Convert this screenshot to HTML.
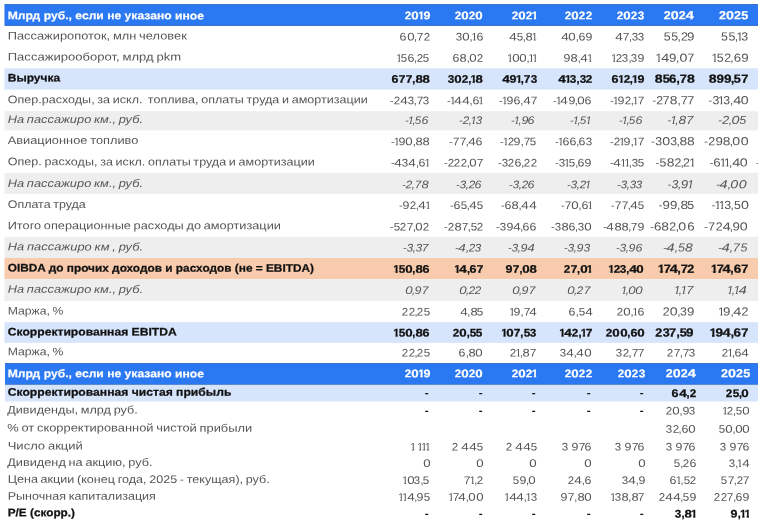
<!DOCTYPE html>
<html lang="ru"><head><meta charset="utf-8"><title>Таблица</title><style>
html,body{margin:0;padding:0;background:#fff}
body{width:758px;height:520px;position:relative;overflow:hidden;font-family:"Liberation Sans", sans-serif;font-size:11px;color:#565656}
.bd{position:absolute;left:4px;right:0}
.ov{position:absolute;left:4px;width:1px;top:0;height:363px;background:#fff;opacity:.45}
.hd{background:#2a78f2;box-shadow:inset 0 1px 0 #3c74cc,inset 0 -1px 0 #3c74cc}
.lb{background:#d6e4fc}
.gr{background:#efeeee}
.or{background:#f8cbad}
.t{position:absolute;top:0;white-space:pre;line-height:20px;height:20px;display:block}
.l{left:0;transform-origin:0 0;word-spacing:-0.7px}
.r{transform-origin:100% 14.0px}
.r span{display:inline-block}
.h{color:#fff;font-weight:bold;-webkit-text-stroke:0.2px #fff}
.l.b,.l.h{word-spacing:0}
.b{color:#111;font-weight:bold;-webkit-text-stroke:0.25px #111}
.i{font-style:italic}
.ds{-webkit-text-stroke:0}
.d0{margin:0 0.0570em;transform:scaleX(1.2050)}
.d1{margin:0 -0.1042em 0 -0.0955em}
.d2{margin:0 0.0142em;transform:scaleX(1.0511)}
.d3{margin:0 0.0132em;transform:scaleX(1.0475)}
.d4{margin:0 0.0641em;transform:scaleX(1.2306)}
.d5{margin:0 0.0152em;transform:scaleX(1.0548)}
.d6{margin:0 0.0361em;transform:scaleX(1.1299)}
.d7{margin:0 0.0254em;transform:scaleX(1.0914)}
.d8{margin:0 0.0483em;transform:scaleX(1.1738)}
.d9{margin:0 0.0361em;transform:scaleX(1.1299)}
.c{margin:0 -0.0260em}
.m{margin:0 0.0040em;transform:scaleX(1.0243)}
.b .d0{margin:0 0.0590em;transform:scaleX(1.2123)}
.b .d1{margin:0 -0.0932em 0 -0.0636em}
.b .d2{margin:0 0.0173em;transform:scaleX(1.0621)}
.b .d3{margin:0 0.0173em;transform:scaleX(1.0621)}
.b .d4{margin:0 0.0672em;transform:scaleX(1.2416)}
.b .d5{margin:0 0.0198em;transform:scaleX(1.0713)}
.b .d6{margin:0 0.0387em;transform:scaleX(1.1390)}
.b .d7{margin:0 0.0244em;transform:scaleX(1.0878)}
.b .d8{margin:0 0.0544em;transform:scaleX(1.1958)}
.b .d9{margin:0 0.0387em;transform:scaleX(1.1390)}
.b .c{margin:0 -0.0117em}
.b .m{margin:0 0.0117em;transform:scaleX(1.0702)}
.h .d0{margin:0 0.0590em;transform:scaleX(1.2123)}
.h .d1{margin:0 -0.0932em 0 -0.0636em}
.h .d2{margin:0 0.0173em;transform:scaleX(1.0621)}
.h .d3{margin:0 0.0173em;transform:scaleX(1.0621)}
.h .d4{margin:0 0.0672em;transform:scaleX(1.2416)}
.h .d5{margin:0 0.0198em;transform:scaleX(1.0713)}
.h .d6{margin:0 0.0387em;transform:scaleX(1.1390)}
.h .d7{margin:0 0.0244em;transform:scaleX(1.0878)}
.h .d8{margin:0 0.0544em;transform:scaleX(1.1958)}
.h .d9{margin:0 0.0387em;transform:scaleX(1.1390)}
.h .c{margin:0 -0.0117em}
.h .m{margin:0 0.0117em;transform:scaleX(1.0702)}
.r .d7.k{margin-right:-0.07em}
.d1{clip-path:polygon(0 0,100% 0,100% 12.85px,4.1px 12.85px,4.1px 15px,2.2px 15px,2.2px 12.85px,0 12.85px)}
.b .d1,.h .d1{clip-path:polygon(0 0,100% 0,100% 12.5px,4.45px 12.5px,4.45px 15px,2.1px 15px,2.1px 12.5px,0 12.5px)}
.i .d1{clip-path:polygon(0 0,100% 0,100% 12.85px,3.8px 12.85px,3.8px 15px,2.1px 15px,2.1px 12.85px,0 12.85px)}
</style></head><body>
<div class="bd hd" style="top:4px;height:22px"></div>
<span class="t l h" style="transform:matrix(1.1029,0.0005,0,1,7.70,5.30)">Млрд руб., если не указано иное</span>
<span class="t r h" style="right:328.1px;transform:matrix(1.0,0.0005,0,1.0,0,5.30)"><span class=d2>2</span><span class=d0>0</span><span class=d1>1</span><span class=d9>9</span></span>
<span class="t r h" style="right:274.8px;transform:matrix(1.0,0.0005,0,1.0,0,5.30)"><span class=d2>2</span><span class=d0>0</span><span class=d2>2</span><span class=d0>0</span></span>
<span class="t r h" style="right:221.3px;transform:matrix(1.0,0.0005,0,1.0,0,5.30)"><span class=d2>2</span><span class=d0>0</span><span class=d2>2</span><span class=d1>1</span></span>
<span class="t r h" style="right:166.1px;transform:matrix(1.0,0.0005,0,1.0,0,5.30)"><span class=d2>2</span><span class=d0>0</span><span class=d2>2</span><span class=d2>2</span></span>
<span class="t r h" style="right:113.7px;transform:matrix(1.0,0.0005,0,1.0,0,5.30)"><span class=d2>2</span><span class=d0>0</span><span class=d2>2</span><span class=d3>3</span></span>
<span class="t r h" style="right:63.7px;transform:matrix(1.07,0.0005,0,1.07,0,5.30)"><span class=d2>2</span><span class=d0>0</span><span class=d2>2</span><span class=d4>4</span></span>
<span class="t r h" style="right:9.6px;transform:matrix(1.07,0.0005,0,1.07,0,5.30)"><span class=d2>2</span><span class=d0>0</span><span class=d2>2</span><span class=d5>5</span></span>
<span class="t l n" style="transform:matrix(1.1692,0.0005,0,1,7.70,25.45)">Пассажиропоток, млн человек</span>
<span class="t r n" style="right:328.1px;transform:matrix(1.0,0.0005,0,1.0,0,26.60)"><span class=d6>6</span><span class=d0>0</span><span class=c>,</span><span class=d7>7</span><span class=d2>2</span></span>
<span class="t r n" style="right:274.8px;transform:matrix(1.0,0.0005,0,1.0,0,26.60)"><span class=d3>3</span><span class=d0>0</span><span class=c>,</span><span class=d1>1</span><span class=d6>6</span></span>
<span class="t r n" style="right:221.3px;transform:matrix(1.0,0.0005,0,1.0,0,26.60)"><span class=d4>4</span><span class=d5>5</span><span class=c>,</span><span class=d8>8</span><span class=d1>1</span></span>
<span class="t r n" style="right:166.1px;transform:matrix(1.0,0.0005,0,1.0,0,26.60)"><span class=d4>4</span><span class=d0>0</span><span class=c>,</span><span class=d6>6</span><span class=d9>9</span></span>
<span class="t r n" style="right:113.7px;transform:matrix(1.0,0.0005,0,1.0,0,26.60)"><span class=d4>4</span><span class=d7>7</span><span class=c>,</span><span class=d3>3</span><span class=d3>3</span></span>
<span class="t r n" style="right:63.7px;transform:matrix(1.07,0.0005,0,1.07,0,26.60)"><span class=d5>5</span><span class=d5>5</span><span class=c>,</span><span class=d2>2</span><span class=d9>9</span></span>
<span class="t r n" style="right:9.6px;transform:matrix(1.07,0.0005,0,1.07,0,26.60)"><span class=d5>5</span><span class=d5>5</span><span class=c>,</span><span class=d1>1</span><span class=d3>3</span></span>
<span class="t l n" style="transform:matrix(1.1873,0.0005,0,1,7.70,46.55)">Пассажирооборот, млрд pkm</span>
<span class="t r n" style="right:328.1px;transform:matrix(1.0,0.0005,0,1.0,0,47.70)"><span class=d1>1</span><span class=d5>5</span><span class=d6>6</span><span class=c>,</span><span class=d2>2</span><span class=d5>5</span></span>
<span class="t r n" style="right:274.8px;transform:matrix(1.0,0.0005,0,1.0,0,47.70)"><span class=d6>6</span><span class=d8>8</span><span class=c>,</span><span class=d0>0</span><span class=d2>2</span></span>
<span class="t r n" style="right:221.3px;transform:matrix(1.0,0.0005,0,1.0,0,47.70)"><span class=d1>1</span><span class=d0>0</span><span class=d0>0</span><span class=c>,</span><span class=d1>1</span><span class=d1>1</span></span>
<span class="t r n" style="right:166.1px;transform:matrix(1.0,0.0005,0,1.0,0,47.70)"><span class=d9>9</span><span class=d8>8</span><span class=c>,</span><span class=d4>4</span><span class=d1>1</span></span>
<span class="t r n" style="right:113.7px;transform:matrix(1.0,0.0005,0,1.0,0,47.70)"><span class=d1>1</span><span class=d2>2</span><span class=d3>3</span><span class=c>,</span><span class=d3>3</span><span class=d9>9</span></span>
<span class="t r n" style="right:63.7px;transform:matrix(1.07,0.0005,0,1.07,0,47.70)"><span class=d1>1</span><span class=d4>4</span><span class=d9>9</span><span class=c>,</span><span class=d0>0</span><span class=d7>7</span></span>
<span class="t r n" style="right:9.6px;transform:matrix(1.07,0.0005,0,1.07,0,47.70)"><span class=d1>1</span><span class=d5>5</span><span class=d2>2</span><span class=c>,</span><span class=d6>6</span><span class=d9>9</span></span>
<div class="bd lb" style="top:69px;height:20px"></div>
<div class="bd lb" style="top:68px;height:1px;opacity:0.70"></div>
<div class="bd lb" style="top:89px;height:1px;opacity:0.60"></div>
<span class="t l b" style="transform:matrix(1.0927,0.0005,0,1,7.70,67.55)">Выручка</span>
<span class="t r b" style="right:328.1px;transform:matrix(1.0,0.0005,0,1.0,0,68.70)"><span class=d6>6</span><span class=d7>7</span><span class=d7>7</span><span class=c>,</span><span class=d8>8</span><span class=d8>8</span></span>
<span class="t r b" style="right:274.8px;transform:matrix(1.0,0.0005,0,1.0,0,68.70)"><span class=d3>3</span><span class=d0>0</span><span class=d2>2</span><span class=c>,</span><span class=d1>1</span><span class=d8>8</span></span>
<span class="t r b" style="right:221.3px;transform:matrix(1.0,0.0005,0,1.0,0,68.70)"><span class=d4>4</span><span class=d9>9</span><span class=d1>1</span><span class=c>,</span><span class=d7>7</span><span class=d3>3</span></span>
<span class="t r b" style="right:166.1px;transform:matrix(1.0,0.0005,0,1.0,0,68.70)"><span class=d4>4</span><span class=d1>1</span><span class=d3>3</span><span class=c>,</span><span class=d3>3</span><span class=d2>2</span></span>
<span class="t r b" style="right:113.7px;transform:matrix(1.0,0.0005,0,1.0,0,68.70)"><span class=d6>6</span><span class=d1>1</span><span class=d2>2</span><span class=c>,</span><span class=d1>1</span><span class=d9>9</span></span>
<span class="t r b" style="right:63.7px;transform:matrix(1.07,0.0005,0,1.07,0,68.70)"><span class=d8>8</span><span class=d5>5</span><span class=d6>6</span><span class=c>,</span><span class=d7>7</span><span class=d8>8</span></span>
<span class="t r b" style="right:9.6px;transform:matrix(1.07,0.0005,0,1.07,0,68.70)"><span class=d8>8</span><span class=d9>9</span><span class=d9>9</span><span class=c>,</span><span class=d5>5</span><span class=d7>7</span></span>
<span class="t l n" style="transform:matrix(1.1412,0.0005,0,1,7.70,89.15)">Опер.расходы, за искл.  топлива, оплаты труда и амортизации</span>
<span class="t r n" style="right:328.1px;transform:matrix(1.0,0.0005,0,1.0,0,90.30)"><span class=m>-</span><span class=d2>2</span><span class=d4>4</span><span class=d3>3</span><span class=c>,</span><span class=d7>7</span><span class=d3>3</span></span>
<span class="t r n" style="right:274.8px;transform:matrix(1.0,0.0005,0,1.0,0,90.30)"><span class=m>-</span><span class=d1>1</span><span class=d4>4</span><span class=d4>4</span><span class=c>,</span><span class=d6>6</span><span class=d1>1</span></span>
<span class="t r n" style="right:221.3px;transform:matrix(1.0,0.0005,0,1.0,0,90.30)"><span class=m>-</span><span class=d1>1</span><span class=d9>9</span><span class=d6>6</span><span class=c>,</span><span class=d4>4</span><span class=d7>7</span></span>
<span class="t r n" style="right:166.1px;transform:matrix(1.0,0.0005,0,1.0,0,90.30)"><span class=m>-</span><span class=d1>1</span><span class=d4>4</span><span class=d9>9</span><span class=c>,</span><span class=d0>0</span><span class=d6>6</span></span>
<span class="t r n" style="right:113.7px;transform:matrix(1.0,0.0005,0,1.0,0,90.30)"><span class=m>-</span><span class=d1>1</span><span class=d9>9</span><span class=d2>2</span><span class=c>,</span><span class=d1>1</span><span class=d7>7</span></span>
<span class="t r n" style="right:63.7px;transform:matrix(1.07,0.0005,0,1.07,0,90.30)"><span class=m>-</span><span class=d2>2</span><span class=d7>7</span><span class=d8>8</span><span class=c>,</span><span class=d7>7</span><span class=d7>7</span></span>
<span class="t r n" style="right:9.6px;transform:matrix(1.07,0.0005,0,1.07,0,90.30)"><span class=m>-</span><span class=d3>3</span><span class=d1>1</span><span class=d3>3</span><span class=c>,</span><span class=d4>4</span><span class=d0>0</span></span>
<div class="bd gr" style="top:112px;height:18px"></div>
<div class="bd gr" style="top:111px;height:1px;opacity:0.80"></div>
<div class="bd gr" style="top:130px;height:1px;opacity:0.40"></div>
<span class="t l i" style="transform:matrix(1.1670,0.0005,0,1,7.70,108.95)">На пассажиро км., руб.</span>
<span class="t r i" style="right:329.6px;transform:matrix(1.0,0.0005,0,1.0,0,110.10)"><span class=m>-</span><span class=d1>1</span><span class=c>,</span><span class=d5>5</span><span class=d6>6</span></span>
<span class="t r i" style="right:276.3px;transform:matrix(1.0,0.0005,0,1.0,0,110.10)"><span class=m>-</span><span class=d2>2</span><span class=c>,</span><span class=d1>1</span><span class=d3>3</span></span>
<span class="t r i" style="right:222.8px;transform:matrix(1.0,0.0005,0,1.0,0,110.10)"><span class=m>-</span><span class=d1>1</span><span class=c>,</span><span class=d9>9</span><span class=d6>6</span></span>
<span class="t r i" style="right:167.6px;transform:matrix(1.0,0.0005,0,1.0,0,110.10)"><span class=m>-</span><span class=d1>1</span><span class=c>,</span><span class=d5>5</span><span class=d1>1</span></span>
<span class="t r i" style="right:115.2px;transform:matrix(1.0,0.0005,0,1.0,0,110.10)"><span class=m>-</span><span class=d1>1</span><span class=c>,</span><span class=d5>5</span><span class=d6>6</span></span>
<span class="t r i" style="right:65.2px;transform:matrix(1.07,0.0005,0,1.07,0,110.10)"><span class=m>-</span><span class=d1>1</span><span class=c>,</span><span class=d8>8</span><span class=d7>7</span></span>
<span class="t r i" style="right:11.1px;transform:matrix(1.07,0.0005,0,1.07,0,110.10)"><span class=m>-</span><span class=d2>2</span><span class=c>,</span><span class=d0>0</span><span class=d5>5</span></span>
<span class="t l n" style="transform:matrix(1.1655,0.0005,0,1,7.70,130.05)">Авиационное топливо</span>
<span class="t r n" style="right:328.1px;transform:matrix(1.0,0.0005,0,1.0,0,131.20)"><span class=m>-</span><span class=d1>1</span><span class=d9>9</span><span class=d0>0</span><span class=c>,</span><span class=d8>8</span><span class=d8>8</span></span>
<span class="t r n" style="right:274.8px;transform:matrix(1.0,0.0005,0,1.0,0,131.20)"><span class=m>-</span><span class=d7>7</span><span class=d7>7</span><span class=c>,</span><span class=d4>4</span><span class=d6>6</span></span>
<span class="t r n" style="right:221.3px;transform:matrix(1.0,0.0005,0,1.0,0,131.20)"><span class=m>-</span><span class=d1>1</span><span class=d2>2</span><span class=d9>9</span><span class=c>,</span><span class=d7>7</span><span class=d5>5</span></span>
<span class="t r n" style="right:166.1px;transform:matrix(1.0,0.0005,0,1.0,0,131.20)"><span class=m>-</span><span class=d1>1</span><span class=d6>6</span><span class=d6>6</span><span class=c>,</span><span class=d6>6</span><span class=d3>3</span></span>
<span class="t r n" style="right:113.7px;transform:matrix(1.0,0.0005,0,1.0,0,131.20)"><span class=m>-</span><span class=d2>2</span><span class=d1>1</span><span class=d9>9</span><span class=c>,</span><span class=d1>1</span><span class=d7>7</span></span>
<span class="t r n" style="right:63.7px;transform:matrix(1.07,0.0005,0,1.07,0,131.20)"><span class=m>-</span><span class=d3>3</span><span class=d0>0</span><span class=d3>3</span><span class=c>,</span><span class=d8>8</span><span class=d8>8</span></span>
<span class="t r n" style="right:9.6px;transform:matrix(1.07,0.0005,0,1.07,0,131.20)"><span class=m>-</span><span class=d2>2</span><span class=d9>9</span><span class=d8>8</span><span class=c>,</span><span class=d0>0</span><span class=d0>0</span></span>
<span class="t l n" style="transform:matrix(1.1427,0.0005,0,1,7.70,151.35)">Опер. расходы, за искл. оплаты труда и амортизации</span>
<span class="t r n" style="right:328.1px;transform:matrix(1.0,0.0005,0,1.0,0,152.50)"><span class=m>-</span><span class=d4>4</span><span class=d3>3</span><span class=d4>4</span><span class=c>,</span><span class=d6>6</span><span class=d1>1</span></span>
<span class="t r n" style="right:274.8px;transform:matrix(1.0,0.0005,0,1.0,0,152.50)"><span class=m>-</span><span class=d2>2</span><span class=d2>2</span><span class=d2>2</span><span class=c>,</span><span class=d0>0</span><span class=d7>7</span></span>
<span class="t r n" style="right:221.3px;transform:matrix(1.0,0.0005,0,1.0,0,152.50)"><span class=m>-</span><span class=d3>3</span><span class=d2>2</span><span class=d6>6</span><span class=c>,</span><span class=d2>2</span><span class=d2>2</span></span>
<span class="t r n" style="right:166.1px;transform:matrix(1.0,0.0005,0,1.0,0,152.50)"><span class=m>-</span><span class=d3>3</span><span class=d1>1</span><span class=d5>5</span><span class=c>,</span><span class=d6>6</span><span class=d9>9</span></span>
<span class="t r n" style="right:113.7px;transform:matrix(1.0,0.0005,0,1.0,0,152.50)"><span class=m>-</span><span class=d4>4</span><span class=d1>1</span><span class=d1>1</span><span class=c>,</span><span class=d3>3</span><span class=d5>5</span></span>
<span class="t r n" style="right:63.7px;transform:matrix(1.07,0.0005,0,1.07,0,152.50)"><span class=m>-</span><span class=d5>5</span><span class=d8>8</span><span class=d2>2</span><span class=c>,</span><span class=d2>2</span><span class=d1>1</span></span>
<span class="t r n" style="right:9.6px;transform:matrix(1.07,0.0005,0,1.07,0,152.50)"><span class=m>-</span><span class=d6>6</span><span class=d1>1</span><span class=d1>1</span><span class=c>,</span><span class=d4>4</span><span class=d0>0</span></span>
<span class="t l n" style="transform:matrix(1.2,0.0005,0,1,755.9,152.50)">-</span>
<div class="bd gr" style="top:173px;height:20px"></div>
<div class="bd gr" style="top:172px;height:1px;opacity:0.10"></div>
<div class="bd gr" style="top:193px;height:1px;opacity:0.90"></div>
<span class="t l i" style="transform:matrix(1.1670,0.0005,0,1,7.70,173.05)">На пассажиро км., руб.</span>
<span class="t r i" style="right:329.6px;transform:matrix(1.0,0.0005,0,1.0,0,174.20)"><span class=m>-</span><span class=d2>2</span><span class=c>,</span><span class=d7>7</span><span class=d8>8</span></span>
<span class="t r i" style="right:276.3px;transform:matrix(1.0,0.0005,0,1.0,0,174.20)"><span class=m>-</span><span class=d3>3</span><span class=c>,</span><span class=d2>2</span><span class=d6>6</span></span>
<span class="t r i" style="right:222.8px;transform:matrix(1.0,0.0005,0,1.0,0,174.20)"><span class=m>-</span><span class=d3>3</span><span class=c>,</span><span class=d2>2</span><span class=d6>6</span></span>
<span class="t r i" style="right:167.6px;transform:matrix(1.0,0.0005,0,1.0,0,174.20)"><span class=m>-</span><span class=d3>3</span><span class=c>,</span><span class=d2>2</span><span class=d1>1</span></span>
<span class="t r i" style="right:115.2px;transform:matrix(1.0,0.0005,0,1.0,0,174.20)"><span class=m>-</span><span class=d3>3</span><span class=c>,</span><span class=d3>3</span><span class=d3>3</span></span>
<span class="t r i" style="right:65.2px;transform:matrix(1.07,0.0005,0,1.07,0,174.20)"><span class=m>-</span><span class=d3>3</span><span class=c>,</span><span class=d9>9</span><span class=d1>1</span></span>
<span class="t r i" style="right:11.1px;transform:matrix(1.07,0.0005,0,1.07,0,174.20)"><span class=m>-</span><span class=d4>4</span><span class=c>,</span><span class=d0>0</span><span class=d0>0</span></span>
<span class="t l n" style="transform:matrix(1.1334,0.0005,0,1,7.70,193.95)">Оплата труда</span>
<span class="t r n" style="right:328.1px;transform:matrix(1.0,0.0005,0,1.0,0,195.10)"><span class=m>-</span><span class=d9>9</span><span class=d2>2</span><span class=c>,</span><span class=d4>4</span><span class=d1>1</span></span>
<span class="t r n" style="right:274.8px;transform:matrix(1.0,0.0005,0,1.0,0,195.10)"><span class=m>-</span><span class=d6>6</span><span class=d5>5</span><span class=c>,</span><span class=d4>4</span><span class=d5>5</span></span>
<span class="t r n" style="right:221.3px;transform:matrix(1.0,0.0005,0,1.0,0,195.10)"><span class=m>-</span><span class=d6>6</span><span class=d8>8</span><span class=c>,</span><span class=d4>4</span><span class=d4>4</span></span>
<span class="t r n" style="right:166.1px;transform:matrix(1.0,0.0005,0,1.0,0,195.10)"><span class=m>-</span><span class=d7>7</span><span class=d0>0</span><span class=c>,</span><span class=d6>6</span><span class=d1>1</span></span>
<span class="t r n" style="right:113.7px;transform:matrix(1.0,0.0005,0,1.0,0,195.10)"><span class=m>-</span><span class=d7>7</span><span class=d7>7</span><span class=c>,</span><span class=d4>4</span><span class=d5>5</span></span>
<span class="t r n" style="right:63.7px;transform:matrix(1.07,0.0005,0,1.07,0,195.10)"><span class=m>-</span><span class=d9>9</span><span class=d9>9</span><span class=c>,</span><span class=d8>8</span><span class=d5>5</span></span>
<span class="t r n" style="right:9.6px;transform:matrix(1.07,0.0005,0,1.07,0,195.10)"><span class=m>-</span><span class=d1>1</span><span class=d1>1</span><span class=d3>3</span><span class=c>,</span><span class=d5>5</span><span class=d0>0</span></span>
<span class="t l n" style="transform:matrix(1.1582,0.0005,0,1,7.70,215.25)">Итого операционные расходы до амортизации</span>
<span class="t r n" style="right:328.1px;transform:matrix(1.0,0.0005,0,1.0,0,216.40)"><span class=m>-</span><span class=d5>5</span><span class=d2>2</span><span class=d7>7</span><span class=c>,</span><span class=d0>0</span><span class=d2>2</span></span>
<span class="t r n" style="right:274.8px;transform:matrix(1.0,0.0005,0,1.0,0,216.40)"><span class=m>-</span><span class=d2>2</span><span class=d8>8</span><span class=d7>7</span><span class=c>,</span><span class=d5>5</span><span class=d2>2</span></span>
<span class="t r n" style="right:221.3px;transform:matrix(1.0,0.0005,0,1.0,0,216.40)"><span class=m>-</span><span class=d3>3</span><span class=d9>9</span><span class=d4>4</span><span class=c>,</span><span class=d6>6</span><span class=d6>6</span></span>
<span class="t r n" style="right:166.1px;transform:matrix(1.0,0.0005,0,1.0,0,216.40)"><span class=m>-</span><span class=d3>3</span><span class=d8>8</span><span class=d6>6</span><span class=c>,</span><span class=d3>3</span><span class=d0>0</span></span>
<span class="t r n" style="right:113.7px;transform:matrix(1.0,0.0005,0,1.0,0,216.40)"><span class=m>-</span><span class=d4>4</span><span class=d8>8</span><span class=d8>8</span><span class=c>,</span><span class=d7>7</span><span class=d9>9</span></span>
<span class="t r n" style="right:63.7px;transform:matrix(1.07,0.0005,0,1.07,0,216.40)"><span class=m>-</span><span class=d6>6</span><span class=d8>8</span><span class=d2>2</span><span class=c>,</span><span class=d0>0</span><span class=d6>6</span></span>
<span class="t r n" style="right:9.6px;transform:matrix(1.07,0.0005,0,1.07,0,216.40)"><span class=m>-</span><span class=d7>7</span><span class=d2>2</span><span class=d4>4</span><span class=c>,</span><span class=d9>9</span><span class=d0>0</span></span>
<div class="bd gr" style="top:237px;height:21px"></div>
<div class="bd gr" style="top:236px;height:1px;opacity:0.20"></div>
<span class="t l i" style="transform:matrix(1.1741,0.0005,0,1,7.70,236.35)">На пассажиро км , руб.</span>
<span class="t r i" style="right:329.6px;transform:matrix(1.0,0.0005,0,1.0,0,237.50)"><span class=m>-</span><span class=d3>3</span><span class=c>,</span><span class=d3>3</span><span class=d7>7</span></span>
<span class="t r i" style="right:276.3px;transform:matrix(1.0,0.0005,0,1.0,0,237.50)"><span class=m>-</span><span class=d4>4</span><span class=c>,</span><span class=d2>2</span><span class=d3>3</span></span>
<span class="t r i" style="right:222.8px;transform:matrix(1.0,0.0005,0,1.0,0,237.50)"><span class=m>-</span><span class=d3>3</span><span class=c>,</span><span class=d9>9</span><span class=d4>4</span></span>
<span class="t r i" style="right:167.6px;transform:matrix(1.0,0.0005,0,1.0,0,237.50)"><span class=m>-</span><span class=d3>3</span><span class=c>,</span><span class=d9>9</span><span class=d3>3</span></span>
<span class="t r i" style="right:115.2px;transform:matrix(1.0,0.0005,0,1.0,0,237.50)"><span class=m>-</span><span class=d3>3</span><span class=c>,</span><span class=d9>9</span><span class=d6>6</span></span>
<span class="t r i" style="right:65.2px;transform:matrix(1.07,0.0005,0,1.07,0,237.50)"><span class=m>-</span><span class=d4>4</span><span class=c>,</span><span class=d5>5</span><span class=d8>8</span></span>
<span class="t r i" style="right:11.1px;transform:matrix(1.07,0.0005,0,1.07,0,237.50)"><span class=m>-</span><span class=d4>4</span><span class=c>,</span><span class=d7>7</span><span class=d5>5</span></span>
<div class="bd or" style="top:258px;height:21px"></div>
<div class="bd or" style="top:279px;height:1px;opacity:0.10"></div>
<span class="t l b" style="transform:matrix(1.0767,0.0005,0,1,7.70,257.60)">OIBDA до прочих доходов и расходов (не = EBITDA)</span>
<span class="t r b" style="right:328.1px;transform:matrix(1.0,0.0005,0,1.0,0,258.75)"><span class=d1>1</span><span class=d5>5</span><span class=d0>0</span><span class=c>,</span><span class=d8>8</span><span class=d6>6</span></span>
<span class="t r b" style="right:274.8px;transform:matrix(1.0,0.0005,0,1.0,0,258.75)"><span class=d1>1</span><span class=d4>4</span><span class=c>,</span><span class=d6>6</span><span class=d7>7</span></span>
<span class="t r b" style="right:221.3px;transform:matrix(1.0,0.0005,0,1.0,0,258.75)"><span class=d9>9</span><span class=d7>7</span><span class=c>,</span><span class=d0>0</span><span class=d8>8</span></span>
<span class="t r b" style="right:166.1px;transform:matrix(1.0,0.0005,0,1.0,0,258.75)"><span class=d2>2</span><span class=d7>7</span><span class=c>,</span><span class=d0>0</span><span class=d1>1</span></span>
<span class="t r b" style="right:113.7px;transform:matrix(1.0,0.0005,0,1.0,0,258.75)"><span class=d1>1</span><span class=d2>2</span><span class=d3>3</span><span class=c>,</span><span class=d4>4</span><span class=d0>0</span></span>
<span class="t r b" style="right:63.7px;transform:matrix(1.07,0.0005,0,1.07,0,258.75)"><span class=d1>1</span><span class="d7 k">7</span><span class=d4>4</span><span class=c>,</span><span class=d7>7</span><span class=d2>2</span></span>
<span class="t r b" style="right:9.6px;transform:matrix(1.07,0.0005,0,1.07,0,258.75)"><span class=d1>1</span><span class="d7 k">7</span><span class=d4>4</span><span class=c>,</span><span class=d6>6</span><span class=d7>7</span></span>
<div class="bd gr" style="top:280px;height:21px"></div>
<div class="bd gr" style="top:279px;height:1px;opacity:0.90"></div>
<span class="t l i" style="transform:matrix(1.1670,0.0005,0,1,7.70,278.85)">На пассажиро км., руб.</span>
<span class="t r i" style="right:329.6px;transform:matrix(1.0,0.0005,0,1.0,0,280.00)"><span class=d0>0</span><span class=c>,</span><span class=d9>9</span><span class=d7>7</span></span>
<span class="t r i" style="right:276.3px;transform:matrix(1.0,0.0005,0,1.0,0,280.00)"><span class=d0>0</span><span class=c>,</span><span class=d2>2</span><span class=d2>2</span></span>
<span class="t r i" style="right:222.8px;transform:matrix(1.0,0.0005,0,1.0,0,280.00)"><span class=d0>0</span><span class=c>,</span><span class=d9>9</span><span class=d7>7</span></span>
<span class="t r i" style="right:167.6px;transform:matrix(1.0,0.0005,0,1.0,0,280.00)"><span class=d0>0</span><span class=c>,</span><span class=d2>2</span><span class=d7>7</span></span>
<span class="t r i" style="right:115.2px;transform:matrix(1.0,0.0005,0,1.0,0,280.00)"><span class=d1>1</span><span class=c>,</span><span class=d0>0</span><span class=d0>0</span></span>
<span class="t r i" style="right:65.2px;transform:matrix(1.07,0.0005,0,1.07,0,280.00)"><span class=d1>1</span><span class=c>,</span><span class=d1>1</span><span class=d7>7</span></span>
<span class="t r i" style="right:11.1px;transform:matrix(1.07,0.0005,0,1.07,0,280.00)"><span class=d1>1</span><span class=c>,</span><span class=d1>1</span><span class=d4>4</span></span>
<span class="t l n" style="transform:matrix(1.1115,0.0005,0,1,7.70,300.45)">Маржа, %</span>
<span class="t r n" style="right:328.1px;transform:matrix(1.0,0.0005,0,1.0,0,301.60)"><span class=d2>2</span><span class=d2>2</span><span class=c>,</span><span class=d2>2</span><span class=d5>5</span></span>
<span class="t r n" style="right:274.8px;transform:matrix(1.0,0.0005,0,1.0,0,301.60)"><span class=d4>4</span><span class=c>,</span><span class=d8>8</span><span class=d5>5</span></span>
<span class="t r n" style="right:221.3px;transform:matrix(1.0,0.0005,0,1.0,0,301.60)"><span class=d1>1</span><span class=d9>9</span><span class=c>,</span><span class="d7 k">7</span><span class=d4>4</span></span>
<span class="t r n" style="right:166.1px;transform:matrix(1.0,0.0005,0,1.0,0,301.60)"><span class=d6>6</span><span class=c>,</span><span class=d5>5</span><span class=d4>4</span></span>
<span class="t r n" style="right:113.7px;transform:matrix(1.0,0.0005,0,1.0,0,301.60)"><span class=d2>2</span><span class=d0>0</span><span class=c>,</span><span class=d1>1</span><span class=d6>6</span></span>
<span class="t r n" style="right:63.7px;transform:matrix(1.07,0.0005,0,1.07,0,301.60)"><span class=d2>2</span><span class=d0>0</span><span class=c>,</span><span class=d3>3</span><span class=d9>9</span></span>
<span class="t r n" style="right:9.6px;transform:matrix(1.07,0.0005,0,1.07,0,301.60)"><span class=d1>1</span><span class=d9>9</span><span class=c>,</span><span class=d4>4</span><span class=d2>2</span></span>
<div class="bd lb" style="top:323px;height:19px"></div>
<div class="bd lb" style="top:322px;height:1px;opacity:0.80"></div>
<div class="bd lb" style="top:342px;height:1px;opacity:0.90"></div>
<span class="t l b" style="transform:matrix(1.1035,0.0005,0,1,7.70,321.40)">Скорректированная EBITDA</span>
<span class="t r b" style="right:328.1px;transform:matrix(1.0,0.0005,0,1.0,0,322.55)"><span class=d1>1</span><span class=d5>5</span><span class=d0>0</span><span class=c>,</span><span class=d8>8</span><span class=d6>6</span></span>
<span class="t r b" style="right:274.8px;transform:matrix(1.0,0.0005,0,1.0,0,322.55)"><span class=d2>2</span><span class=d0>0</span><span class=c>,</span><span class=d5>5</span><span class=d5>5</span></span>
<span class="t r b" style="right:221.3px;transform:matrix(1.0,0.0005,0,1.0,0,322.55)"><span class=d1>1</span><span class=d0>0</span><span class=d7>7</span><span class=c>,</span><span class=d5>5</span><span class=d3>3</span></span>
<span class="t r b" style="right:166.1px;transform:matrix(1.0,0.0005,0,1.0,0,322.55)"><span class=d1>1</span><span class=d4>4</span><span class=d2>2</span><span class=c>,</span><span class=d1>1</span><span class=d7>7</span></span>
<span class="t r b" style="right:113.7px;transform:matrix(1.0,0.0005,0,1.0,0,322.55)"><span class=d2>2</span><span class=d0>0</span><span class=d0>0</span><span class=c>,</span><span class=d6>6</span><span class=d0>0</span></span>
<span class="t r b" style="right:63.7px;transform:matrix(1.07,0.0005,0,1.07,0,322.55)"><span class=d2>2</span><span class=d3>3</span><span class=d7>7</span><span class=c>,</span><span class=d5>5</span><span class=d9>9</span></span>
<span class="t r b" style="right:9.6px;transform:matrix(1.07,0.0005,0,1.07,0,322.55)"><span class=d1>1</span><span class=d9>9</span><span class=d4>4</span><span class=c>,</span><span class=d6>6</span><span class=d7>7</span></span>
<span class="t l n" style="transform:matrix(1.1115,0.0005,0,1,7.70,341.30)">Маржа, %</span>
<span class="t r n" style="right:328.1px;transform:matrix(1.0,0.0005,0,1.0,0,342.45)"><span class=d2>2</span><span class=d2>2</span><span class=c>,</span><span class=d2>2</span><span class=d5>5</span></span>
<span class="t r n" style="right:274.8px;transform:matrix(1.0,0.0005,0,1.0,0,342.45)"><span class=d6>6</span><span class=c>,</span><span class=d8>8</span><span class=d0>0</span></span>
<span class="t r n" style="right:221.3px;transform:matrix(1.0,0.0005,0,1.0,0,342.45)"><span class=d2>2</span><span class=d1>1</span><span class=c>,</span><span class=d8>8</span><span class=d7>7</span></span>
<span class="t r n" style="right:166.3px;transform:matrix(1.0,0.0005,0,1.0,0,342.45)"><span class=d3>3</span><span class=d4>4</span><span class=c>,</span><span class=d4>4</span><span class=d0>0</span></span>
<span class="t r n" style="right:113.1px;transform:matrix(1.0,0.0005,0,1.0,0,342.45)"><span class=d3>3</span><span class=d2>2</span><span class=c>,</span><span class=d7>7</span><span class=d7>7</span></span>
<span class="t r n" style="right:62.2px;transform:matrix(1.0,0.0005,0,1.0,0,342.45)"><span class=d2>2</span><span class=d7>7</span><span class=c>,</span><span class=d7>7</span><span class=d3>3</span></span>
<span class="t r n" style="right:8.4px;transform:matrix(1.0,0.0005,0,1.0,0,342.45)"><span class=d2>2</span><span class=d1>1</span><span class=c>,</span><span class=d6>6</span><span class=d4>4</span></span>
<div class="bd hd" style="left:5.0px;top:363px;height:22px"></div>
<span class="t l h" style="transform:matrix(1.1029,0.0005,0,1,7.70,363.30)">Млрд руб., если не указано иное</span>
<span class="t r h" style="right:328.1px;transform:matrix(1.0,0.0005,0,1.0,0,363.30)"><span class=d2>2</span><span class=d0>0</span><span class=d1>1</span><span class=d9>9</span></span>
<span class="t r h" style="right:274.8px;transform:matrix(1.0,0.0005,0,1.0,0,363.30)"><span class=d2>2</span><span class=d0>0</span><span class=d2>2</span><span class=d0>0</span></span>
<span class="t r h" style="right:221.3px;transform:matrix(1.0,0.0005,0,1.0,0,363.30)"><span class=d2>2</span><span class=d0>0</span><span class=d2>2</span><span class=d1>1</span></span>
<span class="t r h" style="right:166.3px;transform:matrix(1.0,0.0005,0,1.0,0,363.30)"><span class=d2>2</span><span class=d0>0</span><span class=d2>2</span><span class=d2>2</span></span>
<span class="t r h" style="right:113.1px;transform:matrix(1.0,0.0005,0,1.0,0,363.30)"><span class=d2>2</span><span class=d0>0</span><span class=d2>2</span><span class=d3>3</span></span>
<span class="t r h" style="right:62.2px;transform:matrix(1.07,0.0005,0,1.07,0,363.30)"><span class=d2>2</span><span class=d0>0</span><span class=d2>2</span><span class=d4>4</span></span>
<span class="t r h" style="right:8.4px;transform:matrix(1.07,0.0005,0,1.07,0,363.30)"><span class=d2>2</span><span class=d0>0</span><span class=d2>2</span><span class=d5>5</span></span>
<div class="bd lb" style="left:5.0px;top:385px;height:16px"></div>
<div class="bd lb" style="left:5.0px;top:384px;height:1px;opacity:0.20"></div>
<div class="bd lb" style="left:5.0px;top:401px;height:1px;opacity:0.45"></div>
<span class="t l b" style="transform:matrix(1.1041,0.0005,0,1,7.70,381.75)">Скорректированная чистая прибыль</span>
<span class="t r b ds" style="right:328.7px;transform:matrix(1.0,0.0005,0,1.0,0,382.60)"><span class=m>-</span></span>
<span class="t r b ds" style="right:275.4px;transform:matrix(1.0,0.0005,0,1.0,0,382.60)"><span class=m>-</span></span>
<span class="t r b ds" style="right:221.9px;transform:matrix(1.0,0.0005,0,1.0,0,382.60)"><span class=m>-</span></span>
<span class="t r b ds" style="right:166.9px;transform:matrix(1.0,0.0005,0,1.0,0,382.60)"><span class=m>-</span></span>
<span class="t r b ds" style="right:113.7px;transform:matrix(1.0,0.0005,0,1.0,0,382.60)"><span class=m>-</span></span>
<span class="t r b" style="right:62.2px;transform:matrix(1.0,0.0005,0,1.0,0,382.90)"><span class=d6>6</span><span class=d4>4</span><span class=c>,</span><span class=d2>2</span></span>
<span class="t r b" style="right:8.4px;transform:matrix(1.0,0.0005,0,1.0,0,382.90)"><span class=d2>2</span><span class=d5>5</span><span class=c>,</span><span class=d0>0</span></span>
<span class="t l n" style="transform:matrix(1.1503,0.0005,0,1,7.20,399.45)">Дивиденды, млрд руб.</span>
<span class="t r b ds" style="right:328.7px;transform:matrix(1.0,0.0005,0,1.0,0,400.30)"><span class=m>-</span></span>
<span class="t r b ds" style="right:275.4px;transform:matrix(1.0,0.0005,0,1.0,0,400.30)"><span class=m>-</span></span>
<span class="t r b ds" style="right:221.9px;transform:matrix(1.0,0.0005,0,1.0,0,400.30)"><span class=m>-</span></span>
<span class="t r b ds" style="right:166.9px;transform:matrix(1.0,0.0005,0,1.0,0,400.30)"><span class=m>-</span></span>
<span class="t r b ds" style="right:113.7px;transform:matrix(1.0,0.0005,0,1.0,0,400.30)"><span class=m>-</span></span>
<span class="t r n" style="right:62.2px;transform:matrix(1.0,0.0005,0,1.0,0,400.60)"><span class=d2>2</span><span class=d0>0</span><span class=c>,</span><span class=d9>9</span><span class=d3>3</span></span>
<span class="t r n" style="right:8.4px;transform:matrix(1.0,0.0005,0,1.0,0,400.60)"><span class=d1>1</span><span class=d2>2</span><span class=c>,</span><span class=d5>5</span><span class=d0>0</span></span>
<span class="t l n" style="transform:matrix(1.1713,0.0005,0,1,7.20,417.55)">% от скорректированной чистой прибыли</span>
<span class="t r n" style="right:62.2px;transform:matrix(1.0,0.0005,0,1.0,0,418.70)"><span class=d3>3</span><span class=d2>2</span><span class=c>,</span><span class=d6>6</span><span class=d0>0</span></span>
<span class="t r n" style="right:8.4px;transform:matrix(1.0,0.0005,0,1.0,0,418.70)"><span class=d5>5</span><span class=d0>0</span><span class=c>,</span><span class=d0>0</span><span class=d0>0</span></span>
<span class="t l n" style="transform:matrix(1.1824,0.0005,0,1,7.70,435.45)">Число акций</span>
<span class="t r n" style="right:328.1px;transform:matrix(1.0,0.0005,0,1.0,0,436.60)"><span class=d1>1</span> <span class=d1>1</span><span class=d1>1</span><span class=d1>1</span></span>
<span class="t r n" style="right:274.8px;transform:matrix(1.0,0.0005,0,1.0,0,436.60)"><span class=d2>2</span> <span class=d4>4</span><span class=d4>4</span><span class=d5>5</span></span>
<span class="t r n" style="right:221.3px;transform:matrix(1.0,0.0005,0,1.0,0,436.60)"><span class=d2>2</span> <span class=d4>4</span><span class=d4>4</span><span class=d5>5</span></span>
<span class="t r n" style="right:166.3px;transform:matrix(1.0,0.0005,0,1.0,0,436.60)"><span class=d3>3</span> <span class=d9>9</span><span class=d7>7</span><span class=d6>6</span></span>
<span class="t r n" style="right:113.1px;transform:matrix(1.0,0.0005,0,1.0,0,436.60)"><span class=d3>3</span> <span class=d9>9</span><span class=d7>7</span><span class=d6>6</span></span>
<span class="t r n" style="right:62.2px;transform:matrix(1.0,0.0005,0,1.0,0,436.60)"><span class=d3>3</span> <span class=d9>9</span><span class=d7>7</span><span class=d6>6</span></span>
<span class="t r n" style="right:8.4px;transform:matrix(1.0,0.0005,0,1.0,0,436.60)"><span class=d3>3</span> <span class=d9>9</span><span class=d7>7</span><span class=d6>6</span></span>
<span class="t l n" style="transform:matrix(1.1583,0.0005,0,1,7.20,451.95)">Дивиденд на акцию, руб.</span>
<span class="t r n" style="right:328.1px;transform:matrix(1.0,0.0005,0,1.0,0,453.10)"><span class=d0>0</span></span>
<span class="t r n" style="right:274.8px;transform:matrix(1.0,0.0005,0,1.0,0,453.10)"><span class=d0>0</span></span>
<span class="t r n" style="right:221.3px;transform:matrix(1.0,0.0005,0,1.0,0,453.10)"><span class=d0>0</span></span>
<span class="t r n" style="right:166.3px;transform:matrix(1.0,0.0005,0,1.0,0,453.10)"><span class=d0>0</span></span>
<span class="t r n" style="right:113.1px;transform:matrix(1.0,0.0005,0,1.0,0,453.10)"><span class=d0>0</span></span>
<span class="t r n" style="right:62.2px;transform:matrix(1.0,0.0005,0,1.0,0,453.10)"><span class=d5>5</span><span class=c>,</span><span class=d2>2</span><span class=d6>6</span></span>
<span class="t r n" style="right:8.4px;transform:matrix(1.0,0.0005,0,1.0,0,453.10)"><span class=d3>3</span><span class=c>,</span><span class=d1>1</span><span class=d4>4</span></span>
<span class="t l n" style="transform:matrix(1.1425,0.0005,0,1,7.70,468.85)">Цена акции (конец года, 2025 - текущая), руб.</span>
<span class="t r n" style="right:328.1px;transform:matrix(1.0,0.0005,0,1.0,0,470.00)"><span class=d1>1</span><span class=d0>0</span><span class=d3>3</span><span class=c>,</span><span class=d5>5</span></span>
<span class="t r n" style="right:274.8px;transform:matrix(1.0,0.0005,0,1.0,0,470.00)"><span class=d7>7</span><span class=d1>1</span><span class=c>,</span><span class=d2>2</span></span>
<span class="t r n" style="right:221.3px;transform:matrix(1.0,0.0005,0,1.0,0,470.00)"><span class=d5>5</span><span class=d9>9</span><span class=c>,</span><span class=d0>0</span></span>
<span class="t r n" style="right:166.3px;transform:matrix(1.0,0.0005,0,1.0,0,470.00)"><span class=d2>2</span><span class=d4>4</span><span class=c>,</span><span class=d6>6</span></span>
<span class="t r n" style="right:113.1px;transform:matrix(1.0,0.0005,0,1.0,0,470.00)"><span class=d3>3</span><span class=d4>4</span><span class=c>,</span><span class=d9>9</span></span>
<span class="t r n" style="right:62.2px;transform:matrix(1.0,0.0005,0,1.0,0,470.00)"><span class=d6>6</span><span class=d1>1</span><span class=c>,</span><span class=d5>5</span><span class=d2>2</span></span>
<span class="t r n" style="right:8.4px;transform:matrix(1.0,0.0005,0,1.0,0,470.00)"><span class=d5>5</span><span class=d7>7</span><span class=c>,</span><span class=d2>2</span><span class=d7>7</span></span>
<span class="t l n" style="transform:matrix(1.1411,0.0005,0,1,7.70,485.70)">Рыночная капитализация</span>
<span class="t r n" style="right:328.1px;transform:matrix(1.0,0.0005,0,1.0,0,486.85)"><span class=d1>1</span><span class=d1>1</span><span class=d4>4</span><span class=c>,</span><span class=d9>9</span><span class=d5>5</span></span>
<span class="t r n" style="right:274.8px;transform:matrix(1.0,0.0005,0,1.0,0,486.85)"><span class=d1>1</span><span class="d7 k">7</span><span class=d4>4</span><span class=c>,</span><span class=d0>0</span><span class=d0>0</span></span>
<span class="t r n" style="right:221.3px;transform:matrix(1.0,0.0005,0,1.0,0,486.85)"><span class=d1>1</span><span class=d4>4</span><span class=d4>4</span><span class=c>,</span><span class=d1>1</span><span class=d3>3</span></span>
<span class="t r n" style="right:166.3px;transform:matrix(1.0,0.0005,0,1.0,0,486.85)"><span class=d9>9</span><span class=d7>7</span><span class=c>,</span><span class=d8>8</span><span class=d0>0</span></span>
<span class="t r n" style="right:113.1px;transform:matrix(1.0,0.0005,0,1.0,0,486.85)"><span class=d1>1</span><span class=d3>3</span><span class=d8>8</span><span class=c>,</span><span class=d8>8</span><span class=d7>7</span></span>
<span class="t r n" style="right:62.2px;transform:matrix(1.0,0.0005,0,1.0,0,486.85)"><span class=d2>2</span><span class=d4>4</span><span class=d4>4</span><span class=c>,</span><span class=d5>5</span><span class=d9>9</span></span>
<span class="t r n" style="right:8.4px;transform:matrix(1.0,0.0005,0,1.0,0,486.85)"><span class=d2>2</span><span class=d2>2</span><span class=d7>7</span><span class=c>,</span><span class=d6>6</span><span class=d9>9</span></span>
<span class="t l b" style="transform:matrix(1.0714,0.0005,0,1,7.70,502.35)">P/E (скорр.)</span>
<span class="t r b ds" style="right:328.7px;transform:matrix(1.0,0.0005,0,1.0,0,503.20)"><span class=m>-</span></span>
<span class="t r b ds" style="right:275.4px;transform:matrix(1.0,0.0005,0,1.0,0,503.20)"><span class=m>-</span></span>
<span class="t r b ds" style="right:221.9px;transform:matrix(1.0,0.0005,0,1.0,0,503.20)"><span class=m>-</span></span>
<span class="t r b ds" style="right:166.9px;transform:matrix(1.0,0.0005,0,1.0,0,503.20)"><span class=m>-</span></span>
<span class="t r b ds" style="right:113.7px;transform:matrix(1.0,0.0005,0,1.0,0,503.20)"><span class=m>-</span></span>
<span class="t r b" style="right:62.2px;transform:matrix(1.0,0.0005,0,1.0,0,503.50)"><span class=d3>3</span><span class=c>,</span><span class=d8>8</span><span class=d1>1</span></span>
<span class="t r b" style="right:8.4px;transform:matrix(1.0,0.0005,0,1.0,0,503.50)"><span class=d9>9</span><span class=c>,</span><span class=d1>1</span><span class=d1>1</span></span>
<div class="ov"></div>
</body></html>
